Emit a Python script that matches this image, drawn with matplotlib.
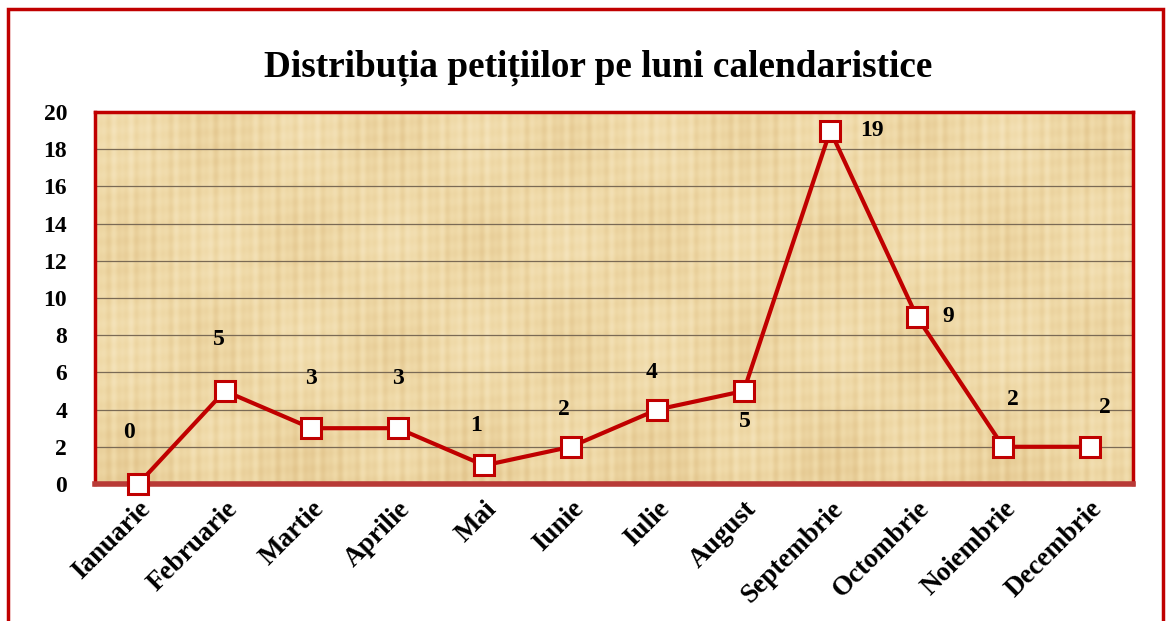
import matplotlib
matplotlib.use('Agg')
import matplotlib.pyplot as plt
from matplotlib.colors import LinearSegmentedColormap
from matplotlib.patches import Rectangle
import numpy as np

# data
months = ['Ianuarie', 'Februarie', 'Martie', 'Aprilie', 'Mai', 'Iunie', 'Iulie',
          'August', 'Septembrie', 'Octombrie', 'Noiembrie', 'Decembrie']
petitions = [0, 5, 3, 3, 1, 2, 4, 5, 19, 9, 2, 2]
title = 'Distribuția petițiilor pe luni calendaristice'

# label offsets in points (dx, dy) relative to each marker
label_offsets = [(-7, 37), (-4, 37), (0, 36), (0, 36), (-6, 29), (-5, 27), (-4, 27),
                 (1, -22), (30, 0), (23, 0), (7, 34), (11, 28)]

RED = '#C00000'
plt.rcParams['font.family'] = ['Liberation Serif', 'DejaVu Serif']
plt.rcParams['font.weight'] = 'bold'

fig = plt.figure(figsize=(11.72, 6.21), dpi=100)
ax = fig.add_axes([95 / 1172, 1 - 484 / 621, 1038 / 1172, 372 / 621])

x = np.arange(len(months))
ax.set_xlim(-0.5, len(months) - 0.5)
ax.set_ylim(0, 20)

# papyrus-like background (decorative only)
gx = np.linspace(0, 1, 1000)
gy = np.linspace(0, 1, 300)
GX, GY = np.meshgrid(gx, gy)
tex = (0.5 + 0.06 * np.sin(GX * 419) + 0.05 * np.sin(GX * 733 + 1.3)
       + 0.07 * np.sin(GX * 37 + 0.4) * np.sin(GY * 11 + 0.9)
       + 0.03 * np.sin(GY * 157 + GX * 23) - 0.10 * GY ** 8)
cmap = LinearSegmentedColormap.from_list('pap', ['#E3C68E', '#EFD9A7', '#F6E6C0'])
ax.imshow(tex, extent=(-0.5, len(months) - 0.5, 0, 20), aspect='auto',
          cmap=cmap, vmin=0.25, vmax=0.75, zorder=0, interpolation='bilinear')

ax.set_yticks(np.arange(0, 21, 2))
ax.grid(axis='y', color='#7A6A55', linewidth=0.9, zorder=1)
ax.tick_params(axis='y', length=0, labelsize=17, pad=20)
ax.tick_params(axis='x', length=0, labelsize=19.5, pad=9)
ax.set_xticks(x)
ax.set_xticklabels(months, rotation=45, ha='right', rotation_mode='anchor')

for side in ['top', 'left', 'right']:
    ax.spines[side].set_color(RED)
    ax.spines[side].set_linewidth(2.5)
ax.spines['bottom'].set_color('#B83A36')
ax.spines['bottom'].set_linewidth(4)

ax.plot(x, petitions, color=RED, linewidth=3, marker='s', markersize=15,
        markerfacecolor='white', markeredgecolor=RED, markeredgewidth=2.2,
        zorder=5, clip_on=False)

for xi, v, (dx, dy) in zip(x, petitions, label_offsets):
    ax.annotate(str(v), (xi, v), xytext=(dx, dy), textcoords='offset points',
                ha='center', va='center', fontsize=17, fontweight='bold')

fig.text(598 / 1172, 1 - 68 / 621, title, ha='center', va='center',
         fontsize=26.8, fontweight='bold')

# outer frame
fig.patches.append(Rectangle((8 / 1172, -0.05), 1155 / 1172, 1 - 9 / 621 + 0.05,
                             transform=fig.transFigure, fill=False,
                             edgecolor=RED, linewidth=2.5))

fig.savefig('out.png', dpi=100)
